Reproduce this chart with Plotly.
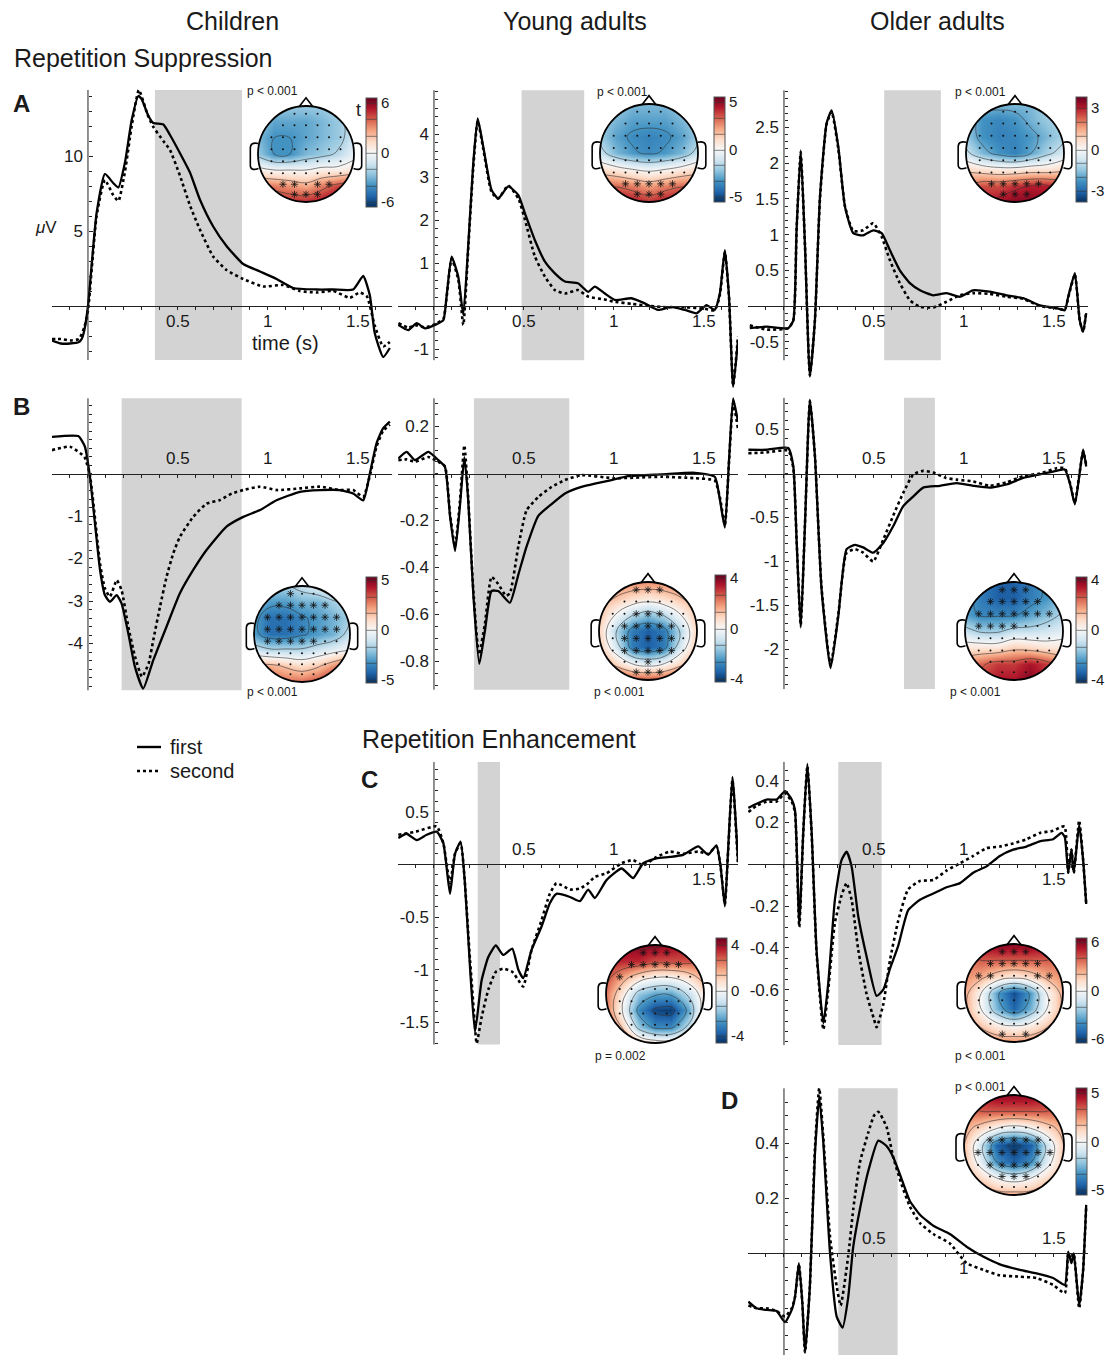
import numpy as np
import plotly.graph_objects as go

W, H = 1105, 1360
FONT = "Liberation Sans, Arial, sans-serif"

# ------------------------------------------------------------------ ERP data
# Row A (repetition suppression, positive component)
A_ch_t1 = [-0.2, -0.15, -0.1, -0.05, -0.035, -0.02, 0.0, 0.048, 0.094, 0.14, 0.169, 0.206, 0.243, 0.28, 0.298, 0.335, 0.363, 0.419, 0.456, 0.511, 0.567, 0.622, 0.696, 0.77, 0.863, 0.956, 1.048, 1.141, 1.27, 1.363, 1.474, 1.53, 1.567, 1.594, 1.641, 1.678]
A_ch_first = [-2.3, -2.5, -2.5, -2.4, -2.2, -1.6, 0.0, 6.2, 8.8, 8.2, 7.9, 9.6, 12.4, 14.0, 13.8, 12.7, 12.2, 12.1, 11.4, 10.2, 8.9, 7.1, 5.3, 4.0, 2.8, 2.3, 1.8, 1.2, 1.1, 1.1, 1.1, 2.0, 0.7, -1.8, -3.4, -2.8]
A_ch_t2 = [-0.2, -0.15, -0.1, -0.05, -0.02, 0.0, 0.048, 0.094, 0.14, 0.169, 0.206, 0.243, 0.283, 0.33, 0.36, 0.419, 0.456, 0.511, 0.567, 0.622, 0.696, 0.77, 0.863, 0.974, 1.085, 1.178, 1.27, 1.363, 1.455, 1.51, 1.55, 1.594, 1.641, 1.678]
A_ch_second = [-2.2, -2.2, -2.3, -2.2, -1.4, -0.3, 6.0, 8.4, 7.4, 7.0, 9.0, 12.0, 14.4, 12.8, 12.0, 11.0, 10.4, 8.7, 6.7, 5.1, 3.3, 2.4, 1.8, 1.3, 1.4, 1.0, 0.9, 1.0, 0.55, 0.9, 0.65, -1.3, -2.7, -2.4]

A_yo_t1 = [-0.198, -0.143, -0.096, -0.05, 0.006, 0.052, 0.07, 0.098, 0.135, 0.163, 0.19, 0.218, 0.243, 0.274, 0.32, 0.357, 0.413, 0.469, 0.506, 0.561, 0.617, 0.672, 0.728, 0.8, 0.857, 0.894, 0.95, 1.006, 1.098, 1.172, 1.246, 1.32, 1.394, 1.46, 1.515, 1.56, 1.589, 1.617, 1.64, 1.663, 1.69]
A_yo_first = [-0.44, -0.56, -0.40, -0.52, -0.44, -0.33, 0.22, 1.15, 0.68, -0.2, 1.38, 3.3, 4.36, 3.7, 2.7, 2.5, 2.78, 2.58, 2.15, 1.53, 1.03, 0.76, 0.57, 0.53, 0.33, 0.45, 0.29, 0.14, 0.18, 0.06, -0.09, -0.02, -0.09, -0.17, 0.02, -0.09, 0.29, 1.3, 0.22, -1.88, -0.79]
A_yo_t2 = [-0.198, -0.143, -0.096, -0.05, 0.006, 0.052, 0.07, 0.098, 0.135, 0.163, 0.19, 0.218, 0.243, 0.274, 0.32, 0.357, 0.413, 0.469, 0.506, 0.561, 0.617, 0.672, 0.728, 0.8, 0.857, 0.95, 1.0, 1.1, 1.2, 1.3, 1.4, 1.5, 1.56, 1.589, 1.617, 1.64, 1.663, 1.69]
A_yo_second = [-0.40, -0.50, -0.45, -0.50, -0.42, -0.30, 0.20, 1.1, 0.62, -0.44, 1.3, 3.2, 4.3, 3.65, 2.65, 2.5, 2.8, 2.5, 2.0, 1.15, 0.68, 0.37, 0.29, 0.37, 0.22, 0.15, 0.1, 0.05, 0.0, -0.03, -0.03, -0.06, -0.1, 0.25, 1.25, 0.2, -1.85, -0.7]

A_ol_t1 = [-0.19, -0.096, 0.024, 0.052, 0.07, 0.093, 0.117, 0.144, 0.172, 0.2, 0.237, 0.265, 0.302, 0.339, 0.385, 0.44, 0.496, 0.543, 0.589, 0.644, 0.7, 0.756, 0.83, 0.904, 0.978, 1.05, 1.144, 1.237, 1.33, 1.422, 1.515, 1.561, 1.58, 1.617, 1.644, 1.663, 1.68]
A_ol_first = [-0.31, -0.29, -0.31, -0.2, 1.06, 2.18, 0.83, -0.99, -0.2, 1.53, 2.56, 2.74, 2.23, 1.39, 1.02, 0.99, 1.06, 1.02, 0.78, 0.5, 0.32, 0.22, 0.15, 0.18, 0.13, 0.22, 0.2, 0.15, 0.11, 0.01, -0.03, -0.06, 0.13, 0.46, -0.2, -0.36, -0.1]
A_ol_t2 = [-0.19, -0.096, 0.024, 0.052, 0.07, 0.093, 0.117, 0.144, 0.172, 0.2, 0.237, 0.265, 0.302, 0.339, 0.385, 0.44, 0.496, 0.543, 0.589, 0.644, 0.7, 0.756, 0.83, 0.904, 0.978, 1.05, 1.144, 1.237, 1.33, 1.422, 1.515, 1.561, 1.58, 1.617, 1.644, 1.663, 1.68]
A_ol_second = [-0.27, -0.33, -0.31, -0.2, 1.06, 2.15, 0.83, -0.97, -0.2, 1.5, 2.55, 2.72, 2.2, 1.4, 1.05, 1.06, 1.16, 0.97, 0.64, 0.32, 0.08, -0.01, -0.02, 0.06, 0.15, 0.18, 0.17, 0.13, 0.1, 0.0, -0.03, -0.05, 0.12, 0.44, -0.2, -0.36, -0.08]

# Row B (repetition suppression, negative component)
B_ch_t1 = [-0.2, -0.054, -0.017, 0.011, 0.039, 0.067, 0.094, 0.122, 0.159, 0.187, 0.224, 0.261, 0.307, 0.363, 0.437, 0.511, 0.585, 0.659, 0.77, 0.863, 0.956, 1.048, 1.178, 1.289, 1.4, 1.474, 1.53, 1.567, 1.604, 1.64, 1.678]
B_ch_first = [0.86, 0.88, 0.63, -0.08, -1.18, -2.27, -2.86, -3.02, -2.86, -3.06, -3.76, -4.55, -5.06, -4.39, -3.6, -2.82, -2.27, -1.8, -1.25, -1.02, -0.86, -0.63, -0.43, -0.39, -0.39, -0.47, -0.63, 0.0, 0.71, 1.06, 1.22]
B_ch_t2 = [-0.2, -0.1, -0.02, 0.011, 0.067, 0.094, 0.122, 0.16, 0.187, 0.224, 0.261, 0.3, 0.337, 0.363, 0.4, 0.437, 0.474, 0.511, 0.585, 0.659, 0.73, 0.8, 0.863, 0.956, 1.05, 1.178, 1.289, 1.4, 1.474, 1.53, 1.567, 1.604, 1.64, 1.678]
B_ch_second = [0.55, 0.63, 0.39, -0.05, -2.12, -2.7, -2.9, -2.51, -2.75, -3.6, -4.3, -4.78, -4.47, -3.92, -3.14, -2.43, -1.88, -1.49, -1.02, -0.71, -0.63, -0.47, -0.39, -0.31, -0.39, -0.35, -0.31, -0.39, -0.39, -0.55, -0.05, 0.63, 1.0, 1.15]

B_yo_t1 = [-0.198, -0.152, -0.106, -0.031, 0.024, 0.061, 0.089, 0.117, 0.144, 0.169, 0.19, 0.219, 0.252, 0.283, 0.32, 0.357, 0.422, 0.469, 0.515, 0.58, 0.654, 0.728, 0.82, 0.894, 0.987, 1.08, 1.265, 1.45, 1.561, 1.589, 1.617, 1.641, 1.663, 1.69]
B_yo_first = [0.064, 0.092, 0.057, 0.092, 0.057, 0.028, -0.18, -0.33, -0.14, 0.07, -0.11, -0.52, -0.81, -0.67, -0.5, -0.5, -0.55, -0.43, -0.31, -0.18, -0.13, -0.085, -0.057, -0.043, -0.028, -0.011, -0.004, 0.003, -0.014, -0.11, -0.23, 0.07, 0.32, 0.22]
B_yo_t2 = [-0.198, -0.152, -0.106, -0.031, 0.024, 0.061, 0.089, 0.117, 0.144, 0.169, 0.19, 0.219, 0.25, 0.283, 0.32, 0.357, 0.4, 0.422, 0.469, 0.515, 0.58, 0.654, 0.728, 0.82, 1.0, 1.265, 1.45, 1.561, 1.589, 1.617, 1.641, 1.663, 1.69]
B_yo_second = [0.057, 0.06, 0.05, 0.07, 0.05, 0.03, -0.17, -0.31, -0.12, 0.12, -0.1, -0.5, -0.77, -0.64, -0.44, -0.47, -0.52, -0.51, -0.31, -0.156, -0.1, -0.057, -0.028, -0.007, -0.02, -0.014, -0.02, -0.03, -0.1, -0.22, 0.06, 0.3, 0.19]

B_ol_t1 = [-0.198, -0.096, 0.024, 0.052, 0.07, 0.093, 0.117, 0.144, 0.172, 0.209, 0.259, 0.302, 0.348, 0.394, 0.44, 0.496, 0.552, 0.607, 0.663, 0.719, 0.774, 0.867, 0.959, 1.052, 1.144, 1.237, 1.33, 1.422, 1.515, 1.561, 1.589, 1.617, 1.644, 1.663, 1.68]
B_ol_first = [0.27, 0.27, 0.29, 0.08, -0.75, -1.75, -0.56, 0.84, 0.2, -1.32, -2.21, -1.62, -0.86, -0.81, -0.84, -0.9, -0.79, -0.6, -0.37, -0.26, -0.16, -0.14, -0.11, -0.14, -0.16, -0.125, -0.05, -0.01, 0.03, 0.045, -0.11, -0.35, 0.01, 0.27, 0.08]
B_ol_t2 = [-0.198, -0.096, 0.024, 0.052, 0.07, 0.093, 0.117, 0.144, 0.172, 0.209, 0.259, 0.302, 0.348, 0.394, 0.44, 0.496, 0.552, 0.607, 0.663, 0.719, 0.774, 0.83, 0.9, 0.959, 1.052, 1.144, 1.237, 1.33, 1.422, 1.515, 1.561, 1.589, 1.617, 1.644, 1.663, 1.68]
B_ol_second = [0.23, 0.24, 0.26, 0.06, -0.75, -1.72, -0.56, 0.82, 0.2, -1.3, -2.18, -1.6, -0.9, -0.86, -0.9, -1.0, -0.75, -0.48, -0.22, -0.01, 0.03, 0.01, -0.05, -0.07, -0.09, -0.14, -0.1, -0.03, 0.0, 0.06, 0.06, -0.1, -0.33, 0.02, 0.25, 0.1]

# Row C (repetition enhancement)
C_yo_t1 = [-0.198, -0.152, -0.096, -0.041, 0.015, 0.052, 0.089, 0.117, 0.148, 0.172, 0.2, 0.228, 0.265, 0.302, 0.344, 0.385, 0.435, 0.469, 0.496, 0.543, 0.598, 0.644, 0.681, 0.756, 0.811, 0.857, 0.894, 0.959, 1.043, 1.107, 1.163, 1.237, 1.311, 1.385, 1.469, 1.524, 1.57, 1.593, 1.617, 1.635, 1.659, 1.69]
C_yo_first = [0.25, 0.29, 0.23, 0.28, 0.31, 0.2, -0.28, 0.1, 0.215, -0.18, -0.97, -1.59, -1.1, -0.88, -0.77, -0.86, -0.8, -1.0, -1.08, -0.81, -0.59, -0.37, -0.28, -0.31, -0.35, -0.24, -0.32, -0.15, -0.04, -0.13, 0.01, 0.057, 0.07, 0.09, 0.17, 0.09, 0.18, -0.02, -0.4, 0.14, 0.83, 0.03]
C_yo_t2 = [-0.198, -0.1, 0.015, 0.052, 0.089, 0.117, 0.148, 0.2, 0.228, 0.237, 0.265, 0.302, 0.344, 0.385, 0.435, 0.469, 0.496, 0.543, 0.598, 0.644, 0.681, 0.756, 0.811, 0.857, 0.894, 0.959, 1.043, 1.107, 1.163, 1.237, 1.311, 1.385, 1.469, 1.524, 1.57, 1.593, 1.617, 1.635, 1.659, 1.69]
C_yo_second = [0.28, 0.31, 0.36, 0.2, -0.18, 0.1, 0.2, -0.9, -1.54, -1.7, -1.45, -1.19, -1.02, -0.99, -1.02, -1.1, -1.16, -0.81, -0.53, -0.28, -0.18, -0.24, -0.23, -0.18, -0.12, -0.085, 0.01, 0.04, -0.01, 0.07, 0.12, 0.1, 0.12, 0.1, 0.17, -0.02, -0.38, 0.12, 0.8, 0.0]

C_ol_t1 = [-0.198, -0.152, -0.096, -0.041, 0.006, 0.043, 0.061, 0.085, 0.107, 0.13, 0.154, 0.181, 0.219, 0.246, 0.283, 0.32, 0.348, 0.376, 0.413, 0.459, 0.515, 0.552, 0.589, 0.635, 0.69, 0.756, 0.83, 0.904, 0.978, 1.052, 1.126, 1.2, 1.274, 1.348, 1.422, 1.496, 1.543, 1.561, 1.58, 1.598, 1.611, 1.641, 1.663, 1.68]
C_ol_first = [0.27, 0.29, 0.31, 0.31, 0.35, 0.31, 0.26, -0.28, 0.15, 0.48, 0.15, -0.41, -0.76, -0.57, -0.17, 0.02, 0.06, -0.01, -0.25, -0.44, -0.63, -0.6, -0.5, -0.39, -0.22, -0.17, -0.14, -0.11, -0.09, -0.04, -0.01, 0.04, 0.07, 0.085, 0.11, 0.12, 0.15, 0.13, -0.04, 0.07, -0.04, 0.19, 0.02, -0.19]
C_ol_t2 = [-0.198, -0.152, -0.096, -0.041, 0.006, 0.043, 0.061, 0.085, 0.107, 0.13, 0.154, 0.181, 0.219, 0.246, 0.283, 0.32, 0.348, 0.376, 0.413, 0.459, 0.5, 0.515, 0.552, 0.589, 0.635, 0.69, 0.756, 0.83, 0.904, 0.978, 1.052, 1.126, 1.2, 1.274, 1.348, 1.422, 1.496, 1.543, 1.561, 1.58, 1.598, 1.611, 1.641, 1.663, 1.68]
C_ol_second = [0.25, 0.28, 0.3, 0.3, 0.34, 0.3, 0.25, -0.3, 0.15, 0.47, 0.14, -0.42, -0.79, -0.6, -0.28, -0.15, -0.09, -0.17, -0.41, -0.62, -0.74, -0.78, -0.67, -0.46, -0.27, -0.12, -0.08, -0.075, -0.03, 0.005, 0.04, 0.077, 0.085, 0.1, 0.12, 0.15, 0.16, 0.18, 0.18, -0.04, 0.07, -0.04, 0.21, 0.02, -0.19]

# Row D
D_ol_t1 = [-0.198, -0.152, -0.096, -0.041, 0.006, 0.043, 0.061, 0.083, 0.102, 0.117, 0.144, 0.172, 0.196, 0.219, 0.256, 0.293, 0.326, 0.357, 0.385, 0.422, 0.469, 0.524, 0.57, 0.607, 0.654, 0.7, 0.756, 0.83, 0.922, 1.015, 1.107, 1.2, 1.311, 1.404, 1.496, 1.561, 1.58, 1.598, 1.611, 1.641, 1.663, 1.68]
D_ol_first = [-0.176, -0.2, -0.206, -0.21, -0.25, -0.206, -0.16, -0.036, -0.18, -0.36, -0.12, 0.36, 0.57, 0.4, 0.0, -0.23, -0.27, -0.16, 0.024, 0.16, 0.3, 0.41, 0.39, 0.35, 0.27, 0.19, 0.14, 0.1, 0.07, 0.024, -0.012, -0.04, -0.06, -0.073, -0.09, -0.115, 0.006, -0.036, 0.0, -0.19, -0.06, 0.176]
D_ol_t2 = [-0.198, -0.152, -0.096, -0.041, 0.006, 0.043, 0.061, 0.083, 0.102, 0.117, 0.144, 0.172, 0.196, 0.219, 0.256, 0.293, 0.315, 0.357, 0.385, 0.422, 0.469, 0.5, 0.524, 0.57, 0.607, 0.654, 0.7, 0.756, 0.83, 0.922, 1.015, 1.107, 1.2, 1.311, 1.404, 1.496, 1.561, 1.58, 1.598, 1.611, 1.641, 1.663, 1.68]
D_ol_second = [-0.19, -0.2, -0.2, -0.21, -0.23, -0.2, -0.16, -0.04, -0.18, -0.36, -0.12, 0.38, 0.6, 0.42, 0.06, -0.12, -0.19, -0.01, 0.16, 0.33, 0.44, 0.5, 0.515, 0.46, 0.35, 0.25, 0.17, 0.11, 0.07, 0.036, -0.036, -0.06, -0.08, -0.085, -0.09, -0.115, -0.145, 0.0, -0.03, 0.0, -0.2, -0.06, 0.17]

# significant time windows (s)
windows = [(0.372, 0.856), (0.487, 0.835), (0.557, 0.872),
           (0.187, 0.854), (0.222, 0.752), (0.667, 0.839),
           (0.243, 0.367), (0.302, 0.543), (0.302, 0.632)]

# y-axis extents (data units) and major tick values
y_extent = [(-3.6, 14.4), (-1.26, 5.02), (-0.76, 3.02),
            (-5.1, 1.77), (-0.92, 0.32), (-2.45, 0.86),
            (-1.71, 0.97), (-0.865, 0.49), (-0.37, 0.60)]
y_ticks = [[5, 10], [-1, 1, 2, 3, 4], [-0.5, 0.5, 1, 1.5, 2, 2.5],
           [-4, -3, -2, -1], [-0.8, -0.6, -0.4, -0.2, 0.2], [-2, -1.5, -1, -0.5, 0.5],
           [-1.5, -1, -0.5, 0.5], [-0.6, -0.4, -0.2, 0.2, 0.4], [0.2, 0.4]]
y_minor = [1, 0.2, 0.1, 0.2, 0.05, 0.1, 0.1, 0.05, 0.05]
x_ticklabels = [0.5, 1, 1.5]
# 1 = label above the time axis, -1 = below
x_label_side = [[-1, -1, -1], [-1, -1, -1], [-1, -1, -1],
                [1, 1, 1], [1, 1, 1], [1, 1, 1],
                [1, 1, -1], [1, 1, -1], [1, -1, 1]]

# ------------------------------------------------------------------ topography data
# 7x7 t-value grids, rows front (nose) -> back, columns left -> right
topo_A_ch = [[-2, -2.5, -2.5, -2.5, -2.5, -2, -1.2], [-2.5, -3.5, -3.5, -3.5, -3, -2.5, -1.2], [-3, -4, -4, -3.5, -3, -2.5, -1.2],
             [-2.5, -4, -4, -3, -2.5, -1.8, -0.6], [0.5, 0, 0, 0, 0.5, 0.5, 1], [3.5, 3.5, 3, 2.5, 3.5, 4.5, 5], [4.5, 5, 5, 5, 5.5, 6.2, 6.2]]
topo_A_yo = [[-2, -2, -2.5, -2.5, -2.5, -2, -2], [-2, -2.5, -3, -3, -3, -2.5, -2], [-2, -3, -3.5, -3.7, -3.5, -3, -2],
             [-1.2, -2.5, -3.2, -3.5, -3.2, -2.5, -1.2], [1, 0.5, 0, -0.3, 0, 0.5, 1], [3.2, 3.2, 2.8, 2.3, 2.8, 3.2, 3.2], [4.8, 4.8, 4.5, 4, 4.5, 4.8, 4.8]]
topo_A_ol = [[-1.2, -1.7, -1.7, -1.7, -1.7, -1.2, -1.2], [-1.4, -2.3, -2.5, -2.3, -1.8, -1.4, -1.2], [-1.4, -2.3, -2.6, -2.5, -2.2, -1.7, -1.2],
             [-0.8, -1.7, -2.3, -2.6, -2, -1.2, -0.6], [0.8, 0.5, 0.3, 0.3, 0.5, 0.5, 0.8], [2, 2.5, 2.5, 2.8, 3, 3, 2.5], [3, 3, 3.2, 3.5, 3.5, 3.2, 3]]
topo_B_ch = [[-1.2, -1.8, -1.8, -1.2, -0.6, 0, 0], [-2.3, -3, -3, -2.5, -2.5, -1.8, -1.2], [-3, -4, -4, -3.5, -3, -2.5, -1.8],
             [-3, -4, -4, -3.5, -3, -2.5, -1.2], [-1, -1.5, -1.5, -1.5, -1, -0.5, 0], [2, 2, 1.5, 1, 1.5, 2.5, 3.5], [3.5, 3.5, 3, 3, 3.5, 4.5, 5.5]]
topo_B_yo = [[2, 2, 2, 2, 2, 2, 2], [1.5, 1.3, 0.8, 0.5, 0.8, 1.3, 1.5], [1.3, 0, -1.2, -1.8, -1.2, 0, 1.3],
             [1, -1.2, -3, -3.5, -3, -1.2, 1], [1.2, -0.6, -3, -3.5, -3, -0.6, 1.2], [2.2, 1, 0, -0.5, 0, 1, 2.2], [3.8, 3.3, 2.8, 2.8, 2.8, 3.3, 3.8]]
topo_B_ol = [[-1.8, -3, -3.5, -3.5, -3, -2.5, -1.8], [-2.3, -3, -3.5, -3.5, -3, -2.5, -1.8], [-2.3, -2.8, -2.8, -2.8, -2.3, -1.8, -1.2],
             [-1, -1.5, -1.5, -1, -1, -0.8, -0.5], [0.5, 0.5, 0.5, 1, 0.8, 0.5, 0.5], [2, 2.5, 3, 3, 3.5, 3, 2], [2, 3, 3.5, 3.5, 4, 3, 2]]
topo_C_yo = [[4.2, 4.2, 4.2, 4.2, 4, 3.6, 3.5], [3.5, 3.5, 3.5, 3, 3, 3, 2.5], [3, 1.8, 0.6, 0, 0, 0.6, 1.8],
             [2.5, 0.5, -1.8, -2.5, -2.5, -1.2, 0.6], [2.5, 0, -3, -4.2, -4.4, -2.5, 0.6], [3, 1.2, -1.8, -3, -3, -1.2, 1.2], [3.5, 3, 1.2, 0.6, 0.6, 1.2, 2.5]]
topo_C_ol = [[5, 5.5, 6, 6, 6, 5.5, 5], [3.5, 4, 4, 4, 4, 4, 3.5], [3, 2.4, 1.2, 0.6, 1.2, 2.4, 3],
             [2.5, 0, -3.8, -5.8, -3.8, 0, 2.5], [2.5, 0, -3.2, -5.2, -3.2, 0, 2.5], [3, 1.8, 0.6, 0, 0.6, 1.8, 3], [3.5, 3.5, 3, 3, 3, 3.5, 3.5]]
topo_D_ol = [[4, 4.5, 5, 5, 5, 4.5, 4], [2.8, 3.3, 3.3, 3.3, 3.3, 3.3, 2.8], [2.2, 1.1, 0, -0.6, 0, 1.1, 2.2],
             [1.7, -1.2, -4.5, -5.3, -4.5, -1.2, 1.7], [1.7, -0.6, -3.5, -4.5, -3.5, -0.6, 1.7], [2.2, 1.1, 0, -0.6, 0, 1.1, 2.2], [2.8, 2.8, 2.2, 2.2, 2.2, 2.8, 2.8]]

topo_zmax = [6.6, 5.5, 3.8, 5.3, 4.24, 4.25, 4.6, 6.5, 5.5]
topo_tick = [6, 5, 3, 5, 4, 4, 4, 6, 5]
# which electrodes carry an asterisk: sign of the effect and |t| threshold
topo_sig_sign = ['pos', 'pos', 'pos', 'neg', 'both', 'neg', 'pos', 'pos', 'neg']
topo_sig_thr = [2.5, 2.0, 1.5, 2.0, 0.8, 1.5, 2.0, 1.6, 0.5]
topo_p = ["p < 0.001", "p < 0.001", "p < 0.001", "p < 0.001", "p < 0.001", "p < 0.001",
          "p = 0.002", "p < 0.001", "p < 0.001"]

# ------------------------------------------------------------------ layout geometry (pixels)
col_x0 = [52, 398, 748]          # left edge of time axis
col_w = 340
x_range = [-0.2, 1.69]
panel_col = [0, 1, 2, 0, 1, 2, 1, 2, 2]
panel_zero = [306, 306, 306, 473.5, 473.5, 473.5, 864.3, 864.3, 1253.3]
panel_scale = [15, 43, 71.4, 42.5, 235, 88, 105.4, 209, 275]

head_geo = [(306, 154, 48), (649, 153, 49), (1015, 153, 49),
            (302, 634, 48), (648, 631, 49), (1014, 631, 49),
            (655, 994, 49), (1014, 993, 49), (1014, 1145, 50)]
cbar_geo = [(366, 98, 207), (714, 97, 202), (1076, 97, 202),
            (366, 577, 683), (715, 575, 682), (1076, 577, 683),
            (716, 938, 1043), (1076, 938, 1043), (1076, 1088, 1195)]
p_geo = [(272, 91), (622, 92), (980, 92), (272, 692), (619, 692), (975, 692),
         (620, 1056), (980, 1056), (980, 1087)]

series = [(A_ch_t1, A_ch_first, A_ch_t2, A_ch_second), (A_yo_t1, A_yo_first, A_yo_t2, A_yo_second),
          (A_ol_t1, A_ol_first, A_ol_t2, A_ol_second), (B_ch_t1, B_ch_first, B_ch_t2, B_ch_second),
          (B_yo_t1, B_yo_first, B_yo_t2, B_yo_second), (B_ol_t1, B_ol_first, B_ol_t2, B_ol_second),
          (C_yo_t1, C_yo_first, C_yo_t2, C_yo_second), (C_ol_t1, C_ol_first, C_ol_t2, C_ol_second),
          (D_ol_t1, D_ol_first, D_ol_t2, D_ol_second)]
topos = [topo_A_ch, topo_A_yo, topo_A_ol, topo_B_ch, topo_B_yo, topo_B_ol, topo_C_yo, topo_C_ol, topo_D_ol]

RDBU = [[0.0, '#053061'], [0.1, '#2166ac'], [0.2, '#4393c3'], [0.3, '#92c5de'], [0.4, '#d1e5f0'],
        [0.5, '#f7f7f7'], [0.6, '#fddbc7'], [0.7, '#f4a582'], [0.8, '#d6604d'], [0.9, '#b2182b'], [1.0, '#67001f']]

def px_x(px):
    return px / W

def px_y(py):
    return 1 - py / H

fig = go.Figure()
layout = dict(width=W, height=H, margin=dict(l=0, r=0, t=0, b=0),
              paper_bgcolor='white', plot_bgcolor='rgba(0,0,0,0)',
              font=dict(family=FONT, color='#1a1a1a'), showlegend=False)
shapes = []
annotations = []
AX = '#222222'

for i in range(9):
    k = i + 1
    xa, ya = f'x{k}', f'y{k}'
    c = panel_col[i]
    x0 = col_x0[c]
    zero, sc = panel_zero[i], panel_scale[i]
    ylo, yhi = y_extent[i]
    top_px = max(zero - yhi * sc - 25, 0)
    bot_px = min(zero - ylo * sc + 40, H)
    yr = [(zero - bot_px) / sc, (zero - top_px) / sc]
    axis_x_px = x0 + (0 - x_range[0]) / (x_range[1] - x_range[0]) * col_w
    layout[f'xaxis{k}'] = dict(domain=[px_x(x0), px_x(x0 + col_w)], range=x_range,
                               anchor='free', position=px_y(zero), showgrid=False, zeroline=False,
                               showline=True, linecolor=AX, linewidth=1,
                               ticks='outside', ticklen=3, tickcolor=AX, tickwidth=1,
                               tickvals=[round(v, 2) for v in np.arange(-0.1, 1.61, 0.1)],
                               showticklabels=False, fixedrange=True)
    mvals = [round(v, 3) for v in np.arange(np.ceil(ylo / y_minor[i]) * y_minor[i], yhi, y_minor[i])]
    layout[f'yaxis{k}'] = dict(domain=[px_y(bot_px), px_y(top_px)], range=yr,
                               anchor='free', position=px_x(axis_x_px), side='left',
                               showgrid=False, zeroline=False, showline=False,
                               ticks='inside', ticklen=4, tickcolor=AX, tickwidth=1,
                               tickvals=y_ticks[i], ticktext=[f'{v:g}' for v in y_ticks[i]],
                               ticklabelstandoff=5,
                               tickfont=dict(size=17, family=FONT, color='#1a1a1a'),
                               minor=dict(tickvals=mvals, ticks='inside', ticklen=3, tickcolor=AX),
                               fixedrange=True)
    # significance window
    w0, w1 = windows[i]
    shapes.append(dict(type='rect', xref=xa, yref=ya, x0=w0, x1=w1, y0=ylo, y1=yhi,
                       fillcolor='#d3d3d3', line=dict(width=0), layer='below'))
    # vertical axis line at t = 0
    shapes.append(dict(type='line', xref=xa, yref=ya, x0=0, x1=0, y0=ylo, y1=yhi,
                       line=dict(color=AX, width=1), layer='above'))
    t1, y1, t2, y2 = series[i]
    fig.add_trace(go.Scatter(x=t1, y=y1, mode='lines', xaxis=xa, yaxis=ya, name='first',
                             showlegend=False, line=dict(color='black', width=2.3, shape='spline', smoothing=0.5),
                             hoverinfo='skip'))
    fig.add_trace(go.Scatter(x=t2, y=y2, mode='lines', xaxis=xa, yaxis=ya, name='second',
                             showlegend=False, line=dict(color='black', width=2.6, dash='3px,3px', shape='spline', smoothing=0.5),
                             hoverinfo='skip'))
    for v, side in zip(x_ticklabels, x_label_side[i]):
        annotations.append(dict(x=v, y=0, xref=xa, yref=ya, text=f'{v:g}', showarrow=False,
                                xanchor='center', yanchor='middle',
                                yshift=15 * side, font=dict(size=17, family=FONT, color='#1a1a1a')))

# ------------------------------------------------------------------ topographies
grid = [-1 + 2 * j / 6 for j in range(7)]

def field_at(g, x, y):
    g = np.asarray(g, float)
    gx = (x + 1) / 2 * 6
    gy = (1 - y) / 2 * 6
    i0 = int(np.clip(np.floor(gy), 0, 5)); j0 = int(np.clip(np.floor(gx), 0, 5))
    fy = gy - i0; fx = gx - j0
    return ((1 - fy) * ((1 - fx) * g[i0, j0] + fx * g[i0, j0 + 1]) +
            fy * ((1 - fx) * g[i0 + 1, j0] + fx * g[i0 + 1, j0 + 1]))

def is_sig(v, sign, thr):
    if sign == 'pos':
        return v >= thr
    if sign == 'neg':
        return v <= -thr
    return abs(v) >= thr

elec_rows = [0.84, 0.6, 0.35, 0.1, -0.15, -0.4, -0.63, -0.84]
electrodes = []
for ey in elec_rows:
    lim = np.sqrt(max(0.93 ** 2 - ey ** 2, 0))
    n = int(lim // 0.24)
    for m in range(-n, n + 1):
        electrodes.append((m * 0.24, ey))

ang = np.linspace(0, 2 * np.pi, 96, endpoint=False)
circle_pts = " L ".join(f"{np.cos(a):.4f},{np.sin(a):.4f}" for a in ang)
mask_path = "M -1.12,-1.12 L 1.12,-1.12 L 1.12,1.12 L -1.12,1.12 Z M " + circle_pts + " Z"
nose_path = "M -0.14,0.99 L 0,1.17 L 0.14,0.99"
left_ear = "M -0.995,0.22 C -1.1,0.24 -1.16,0.22 -1.16,0.12 L -1.16,-0.24 C -1.16,-0.32 -1.1,-0.34 -0.99,-0.3"
right_ear = "M 0.995,0.22 C 1.1,0.24 1.16,0.22 1.16,0.12 L 1.16,-0.24 C 1.16,-0.32 1.1,-0.34 0.99,-0.3"

for j in range(9):
    k = 10 + j
    xa, ya = f'x{k}', f'y{k}'
    cx, cy, r = head_geo[j]
    half = 1.3 * r
    layout[f'xaxis{k}'] = dict(domain=[px_x(cx - half), px_x(cx + half)], range=[-1.3, 1.3],
                               visible=False, fixedrange=True, anchor=ya)
    layout[f'yaxis{k}'] = dict(domain=[px_y(cy + half), px_y(cy - half)], range=[-1.3, 1.3],
                               visible=False, fixedrange=True, anchor=xa)
    z = topos[j][::-1]
    zm, tk = topo_zmax[j], topo_tick[j]
    cbl, cbt, cbb = cbar_geo[j]
    fig.add_trace(go.Contour(
        z=z, x=grid, y=grid, xaxis=xa, yaxis=ya, colorscale=RDBU, zmin=-zm, zmax=zm, zauto=False,
        contours=dict(coloring='heatmap', showlines=True, start=-tk, end=tk, size=tk / 3),
        line=dict(color='#333333', width=0.6, smoothing=1.2), showlegend=False, hoverinfo='skip',
        colorbar=dict(x=px_x(cbl), xanchor='left', y=px_y(cbt), yanchor='top',
                      len=cbb - cbt, lenmode='pixels', thickness=11, thicknessmode='pixels',
                      xpad=0, ypad=0, tickvals=[-tk, 0, tk], ticktext=[f'-{tk}', '0', f'{tk}'],
                      ticks='', tickfont=dict(size=15, family=FONT, color='#1a1a1a'),
                      outlinewidth=1, outlinecolor='#555555')))
    vals = [field_at(topos[j], a, b) for a, b in electrodes]
    sig = [is_sig(v, topo_sig_sign[j], topo_sig_thr[j]) for v in vals]
    fig.add_trace(go.Scatter(x=[e[0] for e, s in zip(electrodes, sig) if not s],
                             y=[e[1] for e, s in zip(electrodes, sig) if not s],
                             mode='markers', xaxis=xa, yaxis=ya, showlegend=False, hoverinfo='skip',
                             marker=dict(symbol='circle', size=2, color='#111111')))
    fig.add_trace(go.Scatter(x=[e[0] for e, s in zip(electrodes, sig) if s],
                             y=[e[1] for e, s in zip(electrodes, sig) if s],
                             mode='markers', xaxis=xa, yaxis=ya, showlegend=False, hoverinfo='skip',
                             marker=dict(symbol='asterisk-open', size=6, color='#111111',
                                         line=dict(width=0.8, color='#111111'))))
    shapes.append(dict(type='path', xref=xa, yref=ya, path=mask_path, fillrule='evenodd',
                       fillcolor='white', line=dict(width=0), layer='above'))
    shapes.append(dict(type='circle', xref=xa, yref=ya, x0=-1, x1=1, y0=-1, y1=1,
                       line=dict(color='black', width=1.8), layer='above'))
    for pth in (nose_path, left_ear, right_ear):
        shapes.append(dict(type='path', xref=xa, yref=ya, path=pth,
                           line=dict(color='black', width=1.6), layer='above'))
    px_, py_ = p_geo[j]
    annotations.append(dict(x=px_x(px_), y=px_y(py_), xref='paper', yref='paper', text=topo_p[j],
                            showarrow=False, xanchor='center', yanchor='middle',
                            font=dict(size=12, family=FONT, color='#1a1a1a')))

# ------------------------------------------------------------------ text
def txt(x, y, s, size, anchor='center', bold=False):
    annotations.append(dict(x=px_x(x), y=px_y(y), xref='paper', yref='paper',
                            text=f'<b>{s}</b>' if bold else s, showarrow=False, xanchor=anchor,
                            yanchor='middle', font=dict(size=size, family=FONT, color='#1a1a1a')))

txt(232, 21, 'Children', 25)
txt(575, 21, 'Young adults', 25)
txt(937, 21, 'Older adults', 25)
txt(12, 58, 'Repetition Suppression', 25, anchor='left')
txt(360, 739, 'Repetition Enhancement', 25, anchor='left')
txt(21, 104, 'A', 24, bold=True)
txt(21, 406, 'B', 24, bold=True)
txt(369, 779, 'C', 24, bold=True)
txt(729, 1100, 'D', 24, bold=True)
txt(46, 228, '<i>μ</i>V', 17)
txt(285, 343, 'time (s)', 20)
txt(358, 110, 't', 18)

# legend (line samples + labels)
legend_items = [('first', 'solid', 747), ('second', '3px,3px', 771)]
for label, dash, ly in legend_items:
    shapes.append(dict(type='line', xref='paper', yref='paper', x0=px_x(137), x1=px_x(161),
                       y0=px_y(ly), y1=px_y(ly), line=dict(color='black', width=2.4, dash=dash)))
    txt(168, ly, label, 20, anchor='left')

layout['shapes'] = shapes
layout['annotations'] = annotations
fig.update_layout(**layout)
fig.write_html("out.html")
